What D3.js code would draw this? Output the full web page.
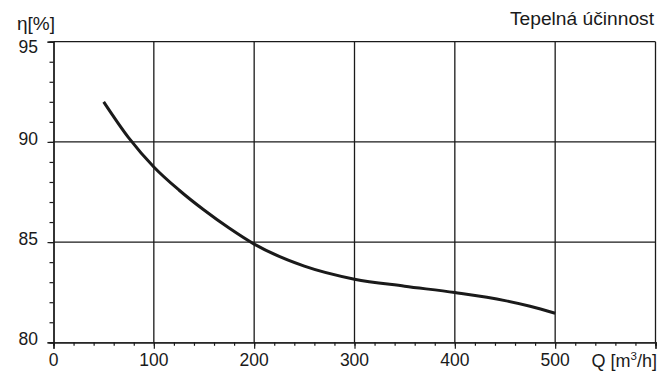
<!DOCTYPE html>
<html><head><meta charset="utf-8">
<script src="https://cdn.jsdelivr.net/npm/d3@7"></script>
<style>body{margin:0;background:#fff;} text{font-family:"Liberation Sans",Arial,Helvetica,sans-serif;fill:#1a1a1a;}</style>
</head><body>
<svg id="c" width="672" height="387"></svg>
<script>
const flow = [50, 75, 100, 125, 150, 175, 200, 250, 300, 350, 400, 450, 475, 500];
const efficiency = [92.0, 90.2, 88.75, 87.6, 86.6, 85.7, 84.9, 83.8, 83.15, 82.8, 82.48, 82.08, 81.8, 81.45];
const xTicks = [0, 100, 200, 300, 400, 500];
const yTicks = [80, 85, 90, 95];
const title = "Tepelná účinnost";
const yLabel = "η[%]";

const svg = d3.select("#c");
const x = d3.scaleLinear().domain([0, 600]).range([53.5, 655.5]);
const y = d3.scaleLinear().domain([80, 95]).range([342.3, 41.7]);
const ink = "#1a1a1a";

// grid
const g = svg.append("g").attr("stroke", ink).attr("stroke-width", 1.3);
[100,200,300,400,500,600].forEach(v => g.append("line").attr("x1", x(v)).attr("x2", x(v)).attr("y1", y(80)).attr("y2", y(95)));
[85,90,95].forEach(v => g.append("line").attr("x1", x(0)).attr("x2", x(600)).attr("y1", y(v)).attr("y2", y(v)));

// axes
const xAxis = d3.axisBottom(x).tickValues(d3.range(0, 601, 20)).tickSize(3.5).tickFormat("");
const xa = svg.append("g").attr("transform", `translate(0,${y(80)})`).call(xAxis);
const xMaj = d3.axisBottom(x).tickValues(d3.range(0, 601, 100)).tickSize(6.5).tickFormat("");
const xm = svg.append("g").attr("transform", `translate(0,${y(80)})`).call(xMaj);
const yAxis = d3.axisLeft(y).tickValues(d3.range(80, 96, 1)).tickSize(4).tickFormat("");
const ya = svg.append("g").attr("transform", `translate(${x(0)},0)`).call(yAxis);
const yMaj = d3.axisLeft(y).tickValues(yTicks).tickSize(6).tickFormat("");
const ym = svg.append("g").attr("transform", `translate(${x(0)},0)`).call(yMaj);
[xa, xm, ya, ym].forEach(a => {
  a.selectAll("path").attr("stroke", ink).attr("stroke-width", 1.3);
  a.selectAll("line").attr("stroke", ink).attr("stroke-width", 1.2);
});

// tick labels
svg.append("g").selectAll("text").data(xTicks).join("text")
  .attr("x", d => x(d)).attr("y", 366).attr("text-anchor", "middle")
  .attr("font-size", 17.5).text(d => d);
svg.append("g").selectAll("text").data(yTicks).join("text")
  .attr("x", 38).attr("y", d => y(d) + (d === 95 ? 11.6 : 3)).attr("text-anchor", "end")
  .attr("font-size", 17.5).text(d => d);

// curve
const line = d3.line().x(d => x(d[0])).y(d => y(d[1])).curve(d3.curveMonotoneX);
svg.append("path").datum(flow.map((q, i) => [q, efficiency[i]]))
  .attr("d", line).attr("fill", "none").attr("stroke", ink).attr("stroke-width", 3);

// labels
svg.append("text").attr("x", 17).attr("y", 30).attr("font-size", 19).text(yLabel);
svg.append("text").attr("x", 510).attr("y", 25).attr("font-size", 17.5)
  .attr("textLength", 144).attr("lengthAdjust", "spacingAndGlyphs").text(title);
const q = svg.append("text").attr("x", 657).attr("y", 367).attr("text-anchor", "end").attr("font-size", 18);
q.append("tspan").text("Q [m");
q.append("tspan").attr("font-size", 11.5).attr("dy", -7).text("3");
q.append("tspan").attr("dy", 7).text("/h]");
</script>
</body></html>
